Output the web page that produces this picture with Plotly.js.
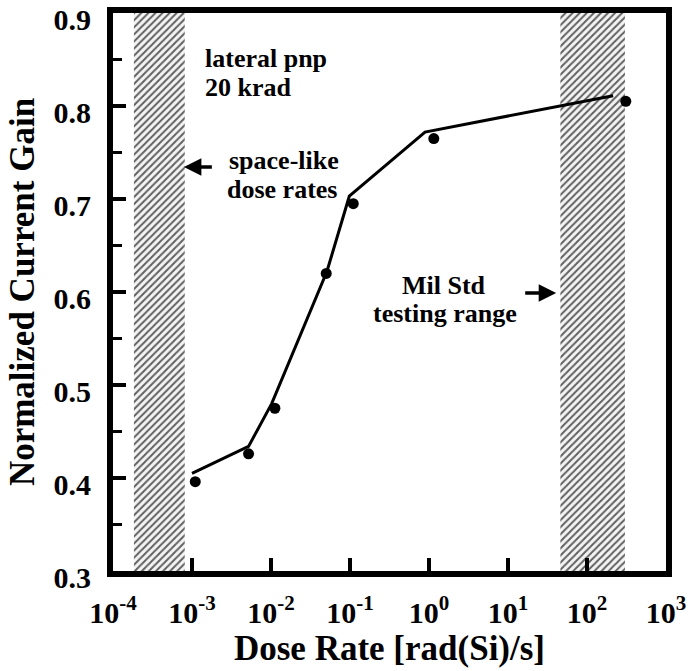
<!DOCTYPE html>
<html>
<head>
<meta charset="utf-8">
<script src="https://cdn.plot.ly/plotly-3.0.1.min.js"></script>
<style>
  html, body { margin: 0; padding: 0; background: #fff; }
  #chart { width: 693px; height: 671px; }
</style>
</head>
<body>
<div id="chart"></div>
<script>
// Measured gain at each dose rate
const doseRate = [1.1e-3, 5.2e-3, 1.12e-2, 5.0e-2, 0.11, 1.15, 310];
const gain     = [0.396, 0.426, 0.475, 0.620, 0.695, 0.765, 0.805];

// Piecewise trend line drawn through the data
const trendRate = [1.0e-3, 5.2e-3, 1.02e-2, 5.1e-2, 0.098, 0.89, 214];
const trendGain = [0.405, 0.434, 0.480, 0.622, 0.703, 0.772, 0.811];

// Shaded dose-rate ranges: space-like and Mil Std testing
const spaceBand = [1.84e-4, 8.1e-4];
const milBand   = [46, 302];
const gainRange = [0.3, 0.9];

// Axis ticks
const xTickVals = [1e-4, 1e-3, 1e-2, 1e-1, 1e0, 1e1, 1e2, 1e3];
const xTickText = ['10<sup>-4</sup>', '10<sup>-3</sup>', '10<sup>-2</sup>', '10<sup>-1</sup>',
                   '10<sup>0</sup>', '10<sup>1</sup>', '10<sup>2</sup>', '10<sup>3</sup>'];
const yTickVals = [0.3, 0.4, 0.5, 0.6, 0.7, 0.8, 0.9];
const yTickText = ['0.3', '0.4', '0.5', '0.6', '0.7', '0.8', '0.9'];

const serif = 'Liberation Serif, Times New Roman, serif';

function bandTrace(range) {
  return {
    type: 'scatter', mode: 'lines',
    x: [range[0], range[1], range[1], range[0], range[0]],
    y: [gainRange[0], gainRange[0], gainRange[1], gainRange[1], gainRange[0]],
    fill: 'toself',
    fillcolor: 'rgba(0,0,0,0)',
    fillpattern: { shape: '/', size: 5, solidity: 0.4, fgcolor: '#606060', bgcolor: '#f4f4f4' },
    line: { width: 0, color: 'rgba(0,0,0,0)' },
    hoverinfo: 'skip', showlegend: false
  };
}

const traces = [
  bandTrace(spaceBand),
  bandTrace(milBand),
  {
    type: 'scatter', mode: 'lines',
    x: trendRate, y: trendGain,
    line: { color: '#000', width: 3 },
    showlegend: false
  },
  {
    type: 'scatter', mode: 'markers',
    x: doseRate, y: gain,
    marker: { color: '#000', size: 11 },
    showlegend: false
  }
];

const textFont = { family: serif, size: 26, color: '#000', weight: 700 };

function label(text, x, y, anchor) {
  return { text: text, x: x, y: y, xref: 'x', yref: 'y', xanchor: anchor, yanchor: 'middle',
           showarrow: false, font: textFont };
}

function arrow(x, y, ax) {
  return { text: ' ', x: x, y: y, xref: 'x', yref: 'y', ax: ax, ay: 0, showarrow: true,
           arrowhead: 2, arrowsize: 1, arrowwidth: 3.5, arrowcolor: '#000', standoff: 0 };
}

const layout = {
  width: 693, height: 671,
  margin: { l: 113, r: 27, t: 13, b: 100 },
  paper_bgcolor: '#fff', plot_bgcolor: '#fff',
  font: { family: serif, color: '#000', weight: 700 },
  showlegend: false,
  xaxis: {
    type: 'log', range: [-4, 3],
    tickmode: 'array', tickvals: xTickVals, ticktext: xTickText,
    ticks: 'inside', ticklen: 13, tickwidth: 4, tickcolor: '#000',
    showline: true, linewidth: 6, linecolor: '#000', mirror: true,
    showgrid: false, zeroline: false,
    tickfont: { family: serif, size: 30, color: '#000', weight: 700 },
    ticklabelstandoff: 10,
    ticklabeloverflow: 'allow',
    title: { text: 'Dose Rate [rad(Si)/s]', font: { family: serif, size: 35, color: '#000', weight: 700 }, standoff: 8 }
  },
  yaxis: {
    range: gainRange,
    tickmode: 'array', tickvals: yTickVals, ticktext: yTickText,
    ticks: 'inside', ticklen: 13, tickwidth: 4, tickcolor: '#000',
    minor: { dtick: 0.05, ticks: 'inside', ticklen: 9, tickwidth: 3, tickcolor: '#000' },
    showline: true, linewidth: 6, linecolor: '#000', mirror: true,
    showgrid: false, zeroline: false,
    tickfont: { family: serif, size: 30, color: '#000', weight: 700 },
    ticklabelstandoff: 10,
    ticklabelshift: 6,
    ticklabeloverflow: 'allow',
    title: { text: 'Normalized Current Gain', font: { family: serif, size: 35, color: '#000', weight: 700 }, standoff: 10 }
  },
  annotations: [
    label('lateral pnp', -2.863, 0.8516, 'left'),
    label('20 krad', -2.863, 0.8194, 'left'),
    label('space-like', -2.56, 0.7409, 'left'),
    label('dose rates', -2.585, 0.7097, 'left'),
    label('Mil Std', 0.195, 0.6065, 'center'),
    label('testing range', 0.208, 0.5774, 'center'),
    arrow(-3.103, 0.7344, 31),
    arrow(1.610, 0.5989, -34)
  ]
};

Plotly.newPlot('chart', traces, layout, { displayModeBar: false, staticPlot: true });
</script>
</body>
</html>
